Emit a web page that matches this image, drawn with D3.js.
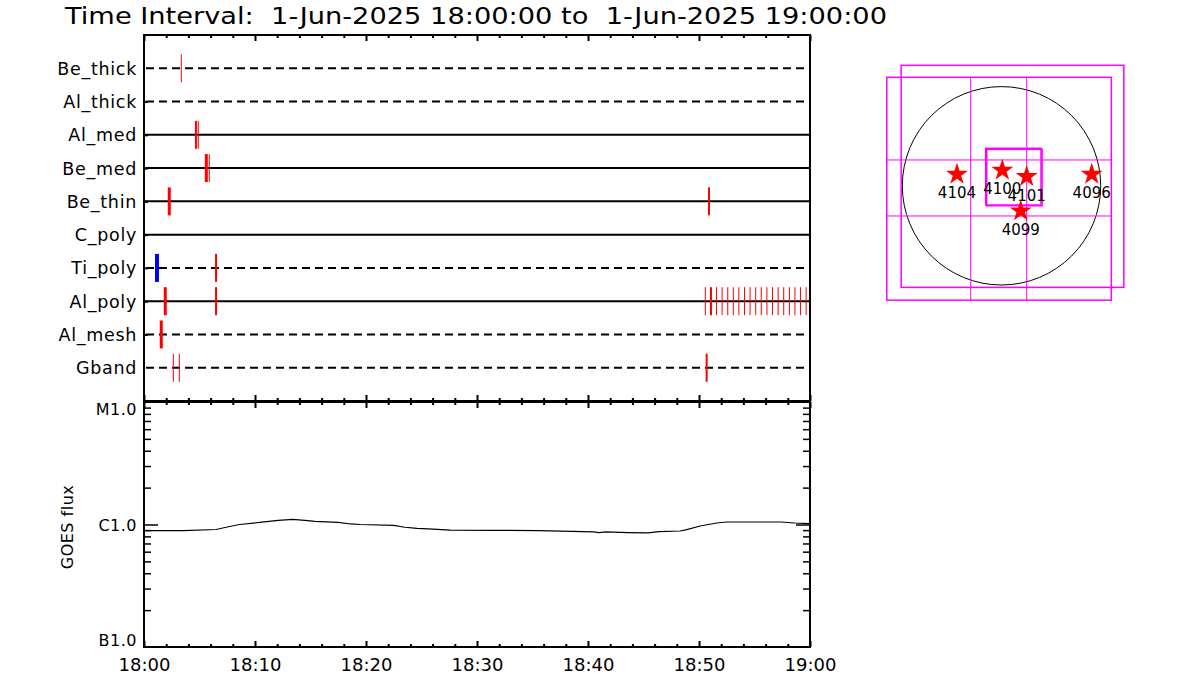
<!DOCTYPE html>
<html>
<head>
<meta charset="utf-8">
<script src="https://cdn.jsdelivr.net/npm/d3@7"></script>
<style>
  html, body { margin: 0; padding: 0; background: #fff; }
  svg { display: block; }
  text { font-family: "DejaVu Sans", sans-serif; fill: #000; }
</style>
</head>
<body>
<svg id="chart" width="1200" height="700"></svg>
<script>
// ---------------- DATA ----------------
const titleText = "Time Interval:  1-Jun-2025 18:00:00 to  1-Jun-2025 19:00:00";
const timeTickLabels = ["18:00", "18:10", "18:20", "18:30", "18:40", "18:50", "19:00"];
const timeTickMinutes = [0, 10, 20, 30, 40, 50, 60];

const rows = ["Be_thick", "Al_thick", "Al_med", "Be_med", "Be_thin", "C_poly", "Ti_poly", "Al_poly", "Al_mesh", "Gband"];
// 1 = inserted (solid line), 0 = not inserted (dashed line)
const rowInserted = [0, 0, 1, 1, 1, 1, 0, 1, 0, 0];

// events: row, start minute, end minute, kind (0 = red, 1 = blue)
const eventRow   = ["Be_thick","Al_med","Al_med","Be_med","Be_med","Be_thin","Be_thin","Ti_poly","Ti_poly",
                    "Al_poly","Al_poly","Al_poly","Al_poly","Al_poly","Al_poly","Al_poly","Al_poly","Al_poly","Al_poly",
                    "Al_poly","Al_poly","Al_poly","Al_poly","Al_poly","Al_poly","Al_poly","Al_poly","Al_poly","Al_poly","Al_poly",
                    "Al_mesh","Gband","Gband","Gband"];
const eventStart = [3.36, 4.59, 4.89, 5.48, 5.88, 2.14, 50.81, 0.99, 6.40,
                    1.78, 6.40, 50.57, 50.99, 51.58, 52.08, 52.59, 53.09, 53.59, 54.10,
                    54.60, 55.11, 55.61, 56.12, 56.62, 57.13, 57.63, 58.14, 58.64, 59.14, 59.65,
                    1.42, 2.64, 3.18, 50.60];
const eventEnd   = [3.36, 4.77, 4.89, 5.75, 5.88, 2.41, 50.99, 1.35, 6.58,
                    2.05, 6.58, 50.57, 51.17, 51.58, 52.08, 52.59, 53.09, 53.59, 54.10,
                    54.60, 55.11, 55.61, 56.12, 56.62, 57.13, 57.63, 58.14, 58.64, 59.14, 59.65,
                    1.69, 2.64, 3.18, 50.78];
const eventKind  = [0,0,0,0,0,0,0,1,0, 0,0,0,0,0,0,0,0,0,0, 0,0,0,0,0,0,0,0,0,0,0, 0,0,0,0];

// GOES flux (W/m^2) vs minutes after 18:00
const goesMinutes = [0, 3.5, 6.5, 7.4, 8.6, 10.4, 12.1, 13.4, 14.5, 15.4, 17.5, 18.6, 19.5, 22.5, 23.5, 24.6, 25.6, 27.6,
                     31.4, 35.5, 37.5, 40.5, 41.0, 41.6, 43.6, 45.4, 46.4, 48.3, 48.9, 50.1, 51.6, 52.5, 57.4, 58.6, 60];
const goesFlux = [8.9e-7, 8.9e-7, 9.1e-7, 9.5e-7, 1.0e-6, 1.04e-6, 1.08e-6, 1.10e-6, 1.08e-6, 1.06e-6, 1.04e-6, 1.01e-6, 1.0e-6,
                  9.85e-7, 9.5e-7, 9.3e-7, 9.2e-7, 9.0e-7, 8.97e-7, 8.92e-7, 8.83e-7, 8.72e-7, 8.60e-7, 8.69e-7, 8.59e-7,
                  8.55e-7, 8.75e-7, 8.85e-7, 9.09e-7, 9.72e-7, 1.029e-6, 1.048e-6, 1.048e-6, 1.029e-6, 1.017e-6];
const goesClassValues = [1e-7, 1e-6, 1e-5];
const goesClassLabels = ["B1.0", "C1.0", "M1.0"];

// Solar map (arcsec, solar north up)
const sunRadius = 960;
const arNumbers = ["4104", "4100", "4101", "4096", "4099"];
const arX = [-431, 8, 244, 873, 186];
const arY = [121, 160, 98, 121, -234];
// FOV rectangles: x0, x1, y0, y1
const fovX0 = [-1110, -971, -153, -143];
const fovX1 = [1063, 1184, 382, 393];
const fovY0 = [-1107, -983, -186, -193];
const fovY1 = [1050, 1166, 363, 353];
const gridX = [-298, 244];
const gridY = [250, -292];

// ---------------- DRAW ----------------
const svg = d3.select("#chart");
svg.append("rect").attr("width", 1200).attr("height", 700).attr("fill", "#fff");

const x = d3.scaleLinear().domain([0, 60]).range([144, 810]);
const yRow = d3.scaleLinear().domain([-1, rows.length]).range([35, 401]);
const rowIndex = new Map(rows.map((r, i) => [r, i]));
const yG = d3.scaleLog().domain([1e-7, 1e-5]).range([647, 402]);

// title
svg.append("text").attr("x", 65).attr("y", 24)
  .attr("font-size", 23).attr("textLength", 822).attr("lengthAdjust", "spacingAndGlyphs")
  .style("white-space", "pre").attr("xml:space", "preserve")
  .text(titleText);

const minorT = d3.range(0, 61, 2).filter(t => t % 10 !== 0);
const majorT = timeTickMinutes;

function addTicks(y, dir, sizes) {
  const fn = dir === "down" ? d3.axisBottom : d3.axisTop;
  const gMin = svg.append("g").attr("transform", `translate(0,${y})`);
  gMin.call(fn(x).tickValues(minorT).tickSize(sizes[0]).tickFormat(""))
      .call(s => s.select(".domain").remove());
  gMin.selectAll("line").attr("stroke", "#000").attr("stroke-width", 2);
  const gMaj = svg.append("g").attr("transform", `translate(0,${y})`);
  gMaj.call(fn(x).tickValues(majorT).tickSize(sizes[1]).tickFormat(""))
      .call(s => s.select(".domain").remove());
  gMaj.selectAll("line").attr("stroke", "#000").attr("stroke-width", 2);
}

// ---- top panel ----
svg.append("g").selectAll("line").data(rows).join("line")
  .attr("x1", (d, i) => rowInserted[i] ? x(0) : x(0) + 2)
  .attr("x2", x(60))
  .attr("y1", (d, i) => yRow(i)).attr("y2", (d, i) => yRow(i))
  .attr("stroke", "#000").attr("stroke-width", 2)
  .attr("stroke-dasharray", (d, i) => rowInserted[i] ? null : "8,5");

svg.append("g").selectAll("text").data(rows).join("text")
  .attr("x", 137).attr("y", (d, i) => yRow(i) + 6.5)
  .attr("text-anchor", "end").attr("font-size", 17.5).attr("letter-spacing", 0.7)
  .text(d => d);

svg.append("g").selectAll("rect").data(eventRow).join("rect")
  .attr("x", (d, i) => {
    const w = Math.max(1, x(eventEnd[i]) - x(eventStart[i]));
    return (x(eventStart[i]) + x(eventEnd[i])) / 2 - w / 2;
  })
  .attr("width", (d, i) => Math.max(1, x(eventEnd[i]) - x(eventStart[i])))
  .attr("y", d => yRow(rowIndex.get(d)) - 14)
  .attr("height", 28)
  .attr("fill", (d, i) => eventKind[i] ? "#0000ff" : "#ff0000");

const gl = svg.append("g").attr("transform", `translate(${x(0)},0)`);
gl.call(d3.axisRight(yRow).tickValues(d3.range(1, rows.length - 1)).tickSize(4).tickFormat(""))
  .call(s => s.select(".domain").remove());
gl.selectAll("line").attr("stroke", "#000").attr("stroke-width", 2);

addTicks(35, "down", [3, 6]);
addTicks(401, "up", [3, 6]);

svg.append("rect").attr("x", x(0)).attr("y", 35).attr("width", x(60) - x(0)).attr("height", 401 - 35)
  .attr("fill", "none").attr("stroke", "#000").attr("stroke-width", 2);

// ---- bottom panel ----
addTicks(402, "down", [3, 6]);
addTicks(647, "up", [3, 6]);

const logMinor = [];
[1e-7, 1e-6].forEach(dec => { for (let k = 2; k <= 9; k++) logMinor.push(k * dec); });

const gLeft = svg.append("g").attr("transform", `translate(${x(0)},0)`);
gLeft.call(d3.axisRight(yG).tickValues(logMinor).tickSize(7).tickFormat(""))
  .call(s => s.select(".domain").remove());
gLeft.append("g").call(d3.axisRight(yG).tickValues([1e-6]).tickSize(14).tickFormat(""))
  .call(s => s.select(".domain").remove());
gLeft.selectAll("line").attr("stroke", "#000").attr("stroke-width", 1.5);

const gRight = svg.append("g").attr("transform", `translate(${x(60)},0)`);
gRight.call(d3.axisLeft(yG).tickValues(logMinor).tickSize(7).tickFormat(""))
  .call(s => s.select(".domain").remove());
gRight.append("g").call(d3.axisLeft(yG).tickValues([1e-6]).tickSize(14).tickFormat(""))
  .call(s => s.select(".domain").remove());
gRight.selectAll("line").attr("stroke", "#000").attr("stroke-width", 1.5);

const line = d3.line().x((d, i) => x(goesMinutes[i])).y(d => yG(d));
svg.append("path").datum(goesFlux).attr("d", line)
  .attr("fill", "none").attr("stroke", "#000").attr("stroke-width", 1.2);

svg.append("rect").attr("x", x(0)).attr("y", 402).attr("width", x(60) - x(0)).attr("height", 647 - 402)
  .attr("fill", "none").attr("stroke", "#000").attr("stroke-width", 2);

svg.append("g").selectAll("text").data(goesClassValues).join("text")
  .attr("x", 137)
  .attr("y", (d, i) => yG(d) + (i === 0 ? -1 : i === goesClassValues.length - 1 ? 13 : 6))
  .attr("text-anchor", "end").attr("font-size", 16).attr("letter-spacing", 0.5)
  .text((d, i) => goesClassLabels[i]);

svg.append("text").attr("transform", `translate(73,527) rotate(-90)`)
  .attr("text-anchor", "middle").attr("font-size", 16).attr("letter-spacing", 0.5).text("GOES flux");

const gxl = svg.append("g").attr("transform", `translate(0,647)`);
gxl.call(d3.axisBottom(x).tickValues(timeTickMinutes).tickSize(0).tickPadding(11)
  .tickFormat((d, i) => timeTickLabels[i]))
  .call(s => s.select(".domain").remove());
gxl.selectAll("text").attr("font-size", 18).attr("font-family", "DejaVu Sans").attr("fill", "#000");

// ---- solar map ----
const sx = d3.scaleLinear().domain([-sunRadius, sunRadius]).range([902.3, 1100.7]);
const sy = d3.scaleLinear().domain([-sunRadius, sunRadius]).range([285, 86.6]);
const map = svg.append("g");

map.append("circle").attr("cx", sx(0)).attr("cy", sy(0)).attr("r", sx(sunRadius) - sx(0))
  .attr("fill", "none").attr("stroke", "#000").attr("stroke-width", 1);

map.selectAll("line.gx").data(gridX).join("line").attr("class", "gx")
  .attr("x1", d => sx(d)).attr("x2", d => sx(d))
  .attr("y1", sy(fovY1[0])).attr("y2", sy(fovY0[0]))
  .attr("stroke", "#ff00ff").attr("stroke-width", 1);
map.selectAll("line.gy").data(gridY).join("line").attr("class", "gy")
  .attr("y1", d => sy(d)).attr("y2", d => sy(d))
  .attr("x1", sx(fovX0[0])).attr("x2", sx(fovX1[0]))
  .attr("stroke", "#ff00ff").attr("stroke-width", 1);

map.selectAll("rect.fov").data(fovX0).join("rect").attr("class", "fov")
  .attr("x", (d, i) => sx(fovX0[i])).attr("width", (d, i) => sx(fovX1[i]) - sx(fovX0[i]))
  .attr("y", (d, i) => sy(fovY1[i])).attr("height", (d, i) => sy(fovY0[i]) - sy(fovY1[i]))
  .attr("fill", "none").attr("stroke", "#ff00ff").attr("stroke-width", 1.5);

const star = d3.symbol(d3.symbolStar).size(150);
map.selectAll("path.star").data(arNumbers).join("path").attr("class", "star")
  .attr("transform", (d, i) => `translate(${sx(arX[i])},${sy(arY[i]) + 1})`)
  .attr("d", star).attr("fill", "#ff0000");

map.selectAll("text.ar").data(arNumbers).join("text").attr("class", "ar")
  .attr("x", (d, i) => sx(arX[i])).attr("y", (d, i) => sy(arY[i]) + 25)
  .attr("text-anchor", "middle").attr("font-size", 15)
  .text(d => d);
</script>
</body>
</html>
